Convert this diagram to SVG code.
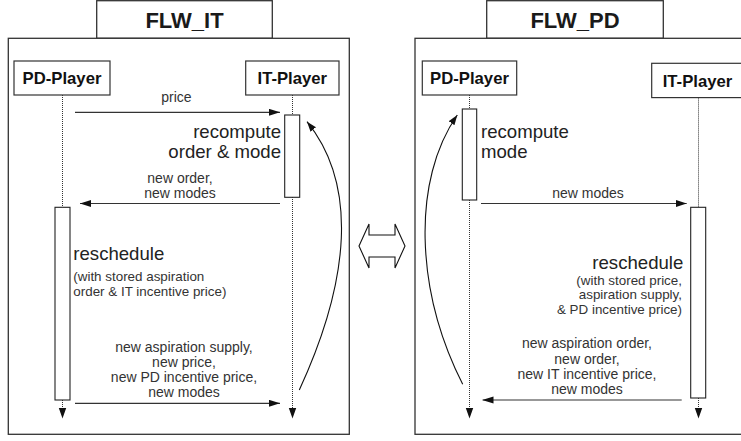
<svg xmlns="http://www.w3.org/2000/svg" width="741" height="441" viewBox="0 0 741 441">
<style>
  .frame{fill:#fff;stroke:#333;stroke-width:1.3}
  .box{fill:#fff;stroke:#333;stroke-width:1.2}
  .act{fill:#fff;stroke:#222;stroke-width:1.1}
  .title{font-family:"Liberation Sans",Arial,sans-serif;font-weight:bold;font-size:22px;fill:#1a1a1a;text-anchor:middle}
  .player{font-family:"Liberation Sans",Arial,sans-serif;font-weight:bold;font-size:16.7px;fill:#111;text-anchor:middle}
  .big{font-family:"Liberation Sans",Arial,sans-serif;font-size:18.6px;fill:#222}
  .lbl{font-family:"Liberation Sans",Arial,sans-serif;font-size:14px;fill:#333;text-anchor:middle}
  .note{font-family:"Liberation Sans",Arial,sans-serif;font-size:13.4px;fill:#333}
  .msg{fill:none;stroke:#333;stroke-width:1.2}
  .life{fill:none;stroke:#333;stroke-width:1;stroke-dasharray:1,1}
  .curve{fill:none;stroke:#111;stroke-width:1.1}
</style>
<defs>
  <marker id="ah" markerUnits="userSpaceOnUse" markerWidth="11" markerHeight="8" refX="11" refY="3.5" orient="auto">
    <path d="M0,0 L11,3.5 L0,7 z" fill="#111"/>
  </marker>
  <marker id="ahs" markerUnits="userSpaceOnUse" markerWidth="11" markerHeight="8" refX="10" refY="3.5" orient="auto">
    <path d="M0,0 L10,3.5 L0,7 z" fill="#111"/>
  </marker>
</defs>
<rect width="741" height="441" fill="#fff"/>

<g id="frame-it">
  <rect class="frame" x="96.7" y="0.7" width="175.6" height="37.6"/>
  <rect class="frame" x="8.3" y="38.3" width="341" height="396"/>
  <text class="title" x="184.5" y="28">FLW_IT</text>
</g>
<g id="frame-pd">
  <rect class="frame" x="486.7" y="0.7" width="176.6" height="37.6"/>
  <rect class="frame" x="415" y="38.3" width="340" height="396"/>
  <text class="title" x="575" y="28">FLW_PD</text>
</g>

<g id="it-pd-player">
  <rect class="box" x="14" y="61" width="96" height="34"/>
  <text class="player" x="62" y="84">PD-Player</text>
</g>
<g id="it-it-player">
  <rect class="box" x="245.7" y="61" width="93.3" height="34"/>
  <text class="player" x="292.3" y="84">IT-Player</text>
</g>
<g id="pd-pd-player">
  <rect class="box" x="422.3" y="61" width="94.4" height="34"/>
  <text class="player" x="469.5" y="84">PD-Player</text>
</g>
<g id="pd-it-player">
  <rect class="box" x="651.7" y="63.3" width="100" height="34.3"/>
  <text class="player" x="697.5" y="87">IT-Player</text>
</g>

<g id="connectors">
  <!-- lifelines left -->
  <line class="life" x1="62.5" y1="95" x2="62.5" y2="207"/>
  <line class="life" x1="62.5" y1="400" x2="62.5" y2="409"/>
  <line class="life" x1="292.5" y1="95" x2="292.5" y2="115"/>
  <line class="life" x1="292.5" y1="197" x2="292.5" y2="409"/>
  <!-- lifelines right -->
  <line class="life" x1="469.5" y1="95" x2="469.5" y2="109"/>
  <line class="life" x1="469.5" y1="200" x2="469.5" y2="409"/>
  <line class="life" x1="698.5" y1="97.6" x2="698.5" y2="207"/>
  <line class="life" x1="698.5" y1="398" x2="698.5" y2="409"/>
  <!-- lifeline end arrowheads -->
  <path d="M58.8,408 L66.2,408 L62.5,418.5 z" fill="#111"/>
  <path d="M288.8,408 L296.2,408 L292.5,418.5 z" fill="#111"/>
  <path d="M465.8,408 L473.2,408 L469.5,418.5 z" fill="#111"/>
  <path d="M694.8,408 L702.2,408 L698.5,418.5 z" fill="#111"/>
  <!-- messages left -->
  <line class="msg" x1="75" y1="112.3" x2="280" y2="112.3" marker-end="url(#ah)"/>
  <line class="msg" x1="280" y1="203.5" x2="80" y2="203.5" marker-end="url(#ah)"/>
  <line class="msg" x1="75" y1="403.3" x2="280" y2="403.3" marker-end="url(#ah)"/>
  <!-- messages right -->
  <line class="msg" x1="481" y1="203.5" x2="686.7" y2="203.5" marker-end="url(#ah)"/>
  <line class="msg" x1="681.7" y1="400" x2="482.5" y2="400" marker-end="url(#ah)"/>
  <!-- curved returns -->
  <path class="curve" d="M299.3,390 C350,280 358,185 307,121.7" marker-end="url(#ahs)"/>
  <path class="curve" d="M462.7,384.3 C415,290 412,180 457.3,115" marker-end="url(#ahs)"/>
</g>

<g id="it-it-activation">
  <rect class="act" x="284.7" y="115" width="15" height="82.3"/>
</g>
<g id="it-pd-activation">
  <rect class="act" x="55" y="207.3" width="15" height="192.7"/>
</g>
<g id="pd-pd-activation">
  <rect class="act" x="462.3" y="109" width="14.4" height="91"/>
</g>
<g id="pd-it-activation">
  <rect class="act" x="690.7" y="207.3" width="15" height="190.7"/>
</g>

<g id="it-labels">
  <text class="lbl" x="176.5" y="102">price</text>
  <text class="big" x="281" y="137.7" text-anchor="end">recompute</text>
  <text class="big" x="281" y="158.3" text-anchor="end">order &amp; mode</text>
  <text class="lbl" x="180" y="183.3">new order,</text>
  <text class="lbl" x="180" y="198.3">new modes</text>
  <text class="big" x="73.3" y="260">reschedule</text>
  <text class="note" x="73.3" y="281">(with stored aspiration</text>
  <text class="note" x="73.3" y="295.7">order &amp; IT incentive price)</text>
  <text class="lbl" x="184" y="352">new aspiration supply,</text>
  <text class="lbl" x="184" y="367">new price,</text>
  <text class="lbl" x="184" y="382">new PD incentive price,</text>
  <text class="lbl" x="184" y="397">new modes</text>
</g>

<g id="pd-labels">
  <text class="big" x="481" y="138.3">recompute</text>
  <text class="big" x="481" y="158.3">mode</text>
  <text class="lbl" x="588" y="198.3">new modes</text>
  <text class="big" x="683.3" y="269" text-anchor="end">reschedule</text>
  <text class="note" x="682" y="284.5" text-anchor="end">(with stored price,</text>
  <text class="note" x="682" y="299" text-anchor="end">aspiration supply,</text>
  <text class="note" x="682" y="313.5" text-anchor="end">&amp; PD incentive price)</text>
  <text class="lbl" x="587" y="348.3">new aspiration order,</text>
  <text class="lbl" x="587" y="364">new order,</text>
  <text class="lbl" x="587" y="379">new IT incentive price,</text>
  <text class="lbl" x="587" y="394">new modes</text>
</g>

<g id="switch-arrow">
  <polygon points="359,246 369,224 369,235 395,235 395,224 405,246 395,268 395,257 369,257 369,268" fill="#fff" stroke="#111" stroke-width="1.1"/>
</g>
</svg>
